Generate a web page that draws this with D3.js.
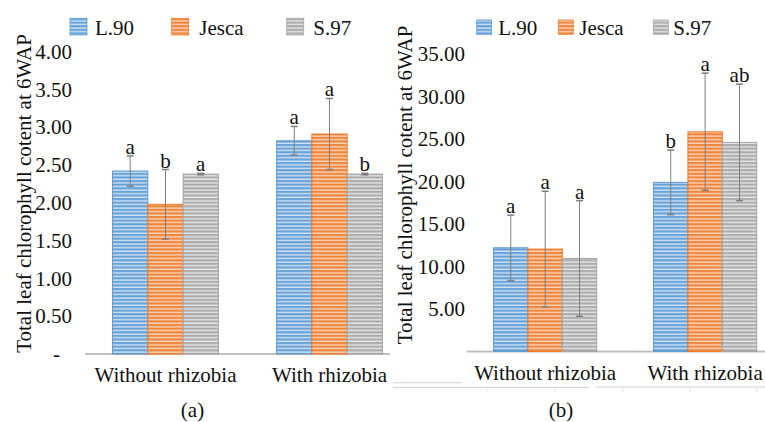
<!DOCTYPE html>
<html><head><meta charset="utf-8">
<script src="https://cdn.jsdelivr.net/npm/d3@7"></script>
<style>
html,body{margin:0;padding:0;background:#fff;}
svg{display:block;}
svg text{font-family:'Liberation Serif','Times New Roman',Times,'DejaVu Serif',serif !important;}
</style></head>
<body><svg id="c" width="765" height="422"></svg>
<script>
// ---- data ----
const categories = ["Without rhizobia", "With rhizobia"];
const seriesNames = ["L.90", "Jesca", "S.97"];

// panel (a)
const aL90 = [2.42, 2.82];
const aJesca = [1.98, 2.91];
const aS97 = [2.38, 2.38];
const aL90Err = [0.20, 0.19];
const aJescaErr = [0.46, 0.47];
const aS97Err = [0.01, 0.01];
const aL90Sig = ["a", "a"];
const aJescaSig = ["b", "a"];
const aS97Sig = ["a", "b"];
const aTicks = [0, 0.5, 1, 1.5, 2, 2.5, 3, 3.5, 4];

// panel (b)
const bL90 = [12.2, 19.9];
const bJesca = [12.05, 25.85];
const bS97 = [10.95, 24.6];
const bL90Err = [3.85, 3.8];
const bJescaErr = [6.8, 6.9];
const bS97Err = [6.8, 6.85];
const bL90Sig = ["a", "b"];
const bJescaSig = ["a", "a"];
const bS97Sig = ["a", "ab"];
const bTicks = [5, 10, 15, 20, 25, 30, 35];

const yTitle = "Total leaf chlorophyll cotent at 6WAP";

// ---- styles ----
const FONT = "'Liberation Serif','Times New Roman',Times,'DejaVu Serif',serif";
const baseColors = ["#5b9bd5", "#ed7d31", "#a5a5a5"];
const lightColors = ["#d2e3f3", "#fad5bb", "#e6e6e6"];
const svg = d3.select("#c").attr("font-family", FONT);
const defs = svg.append("defs");
baseColors.forEach((c, i) => {
  const p = defs.append("pattern").attr("id", "pat" + i)
    .attr("patternUnits", "userSpaceOnUse").attr("width", 6).attr("height", 3.6);
  p.append("rect").attr("width", 6).attr("height", 3.6).attr("fill", lightColors[i]);
  p.append("rect").attr("width", 6).attr("height", 2.2).attr("fill", c).attr("opacity", 0.9);
});
defs.append("clipPath").attr("id", "clipA").append("rect")
  .attr("x", 0).attr("y", 0).attr("width", 390).attr("height", 422);

function txt(sel) {
  return sel.attr("font-family", FONT).attr("font-size", 21).attr("fill", "#111");
}

function panel(cfg) {
  const g = svg.append("g");
  if (cfg.clip) g.attr("clip-path", "url(#" + cfg.clip + ")");
  const x0 = d3.scaleBand().domain(categories).range([cfg.x0, cfg.x1])
    .paddingInner(0.355).paddingOuter(0.168);
  const x1 = d3.scaleBand().domain(seriesNames).range([0, x0.bandwidth()]);
  const y = d3.scaleLinear().domain(cfg.domain).range([cfg.yBase, cfg.yTop]);

  // baseline
  g.append("line").attr("x1", cfg.x0).attr("x2", cfg.lineEnd)
    .attr("y1", cfg.yBase).attr("y2", cfg.yBase)
    .attr("stroke", "#bfbfbf").attr("stroke-width", 2);

  // y tick labels
  const yAxis = d3.axisLeft(y).tickValues(cfg.ticks).tickSize(0)
    .tickFormat(d => d === 0 ? "-" : d3.format(".2f")(d));
  const ya = g.append("g").attr("transform", `translate(${cfg.labelX},0)`).call(yAxis)
    .attr("font-family", FONT).attr("font-size", 21);
  ya.select(".domain").remove();
  txt(ya.selectAll("text")).attr("x", d => d === 0 ? -12 : 0);

  // y title
  txt(g.append("text")).attr("transform", `translate(${cfg.titleX},${cfg.titleY}) rotate(-90)`)
    .attr("text-anchor", "middle").text(yTitle);

  // bars
  const rows = [];
  categories.forEach((c, ci) => {
    seriesNames.forEach((s, si) => {
      rows.push({c, s, si, v: cfg.vals[si][ci], e: cfg.errs[si][ci], t: cfg.sig[si][ci]});
    });
  });
  const bg = g.append("g");
  bg.selectAll("rect").data(rows).join("rect")
    .attr("x", d => x0(d.c) + x1(d.s))
    .attr("y", d => y(d.v))
    .attr("width", x1.bandwidth())
    .attr("height", d => y(0) - y(d.v))
    .attr("fill", d => `url(#pat${d.si})`)
    .attr("stroke", d => baseColors[d.si]).attr("stroke-width", 1);

  // error bars
  const cx = d => x0(d.c) + x1(d.s) + x1.bandwidth() / 2;
  const eg = g.append("g").attr("stroke", "#7f7f7f");
  eg.selectAll("line.v").data(rows).join("line").attr("class", "v")
    .attr("x1", cx).attr("x2", cx)
    .attr("y1", d => y(d.v + d.e)).attr("y2", d => y(d.v - d.e)).attr("stroke-width", 1);
  [1, -1].forEach(sgn => {
    eg.selectAll("line.c" + (sgn > 0 ? "t" : "b")).data(rows).join("line")
      .attr("class", "c" + (sgn > 0 ? "t" : "b"))
      .attr("x1", d => cx(d) - 3.5).attr("x2", d => cx(d) + 3.5)
      .attr("y1", d => y(d.v + sgn * d.e)).attr("y2", d => y(d.v + sgn * d.e))
      .attr("stroke-width", 1.5);
  });

  // significance letters
  txt(g.append("g").selectAll("text").data(rows).join("text"))
    .attr("x", cx).attr("y", d => y(d.v + d.e) - 2)
    .attr("text-anchor", "middle")
    .text(d => d.t);

  // x labels
  txt(g.append("g").selectAll("text").data(categories).join("text"))
    .attr("x", d => x0(d) + x0.bandwidth() / 2).attr("y", cfg.xLabelY)
    .attr("text-anchor", "middle")
    .text(d => d);

  // legend
  const lg = g.append("g");
  seriesNames.forEach((s, i) => {
    lg.append("rect").attr("x", cfg.legSw[i]).attr("y", cfg.legY)
      .attr("width", cfg.swW).attr("height", cfg.swH)
      .attr("fill", `url(#pat${i})`).attr("stroke", baseColors[i]).attr("stroke-width", 0.8);
    txt(lg.append("text")).attr("x", cfg.legTx[i]).attr("y", 34.5).text(s);
  });

  // caption
  txt(svg.append("text")).attr("x", cfg.capX).attr("y", 417).attr("text-anchor", "middle")
    .text(cfg.cap);
}

panel({
  clip: "clipA", x0: 85, x1: 410, lineEnd: 390, yBase: 354, yTop: 51.6, domain: [0, 4],
  ticks: aTicks, labelX: 72, titleX: 31, titleY: 193.5, xLabelY: 381.7,
  vals: [aL90, aJesca, aS97], errs: [aL90Err, aJescaErr, aS97Err], sig: [aL90Sig, aJescaSig, aS97Sig],
  legSw: [70, 171.7, 286.7], legTx: [95, 199.3, 313.3], legY: 18.3, swW: 17, swH: 16.7,
  capX: 192.5, cap: "(a)"
});
panel({
  x0: 466.7, x1: 783.6, lineEnd: 765, yBase: 351.5, yTop: 54, domain: [0, 35],
  ticks: bTicks, labelX: 465, titleX: 411.5, titleY: 185, xLabelY: 380,
  vals: [bL90, bJesca, bS97], errs: [bL90Err, bJescaErr, bS97Err], sig: [bL90Sig, bJescaSig, bS97Sig],
  legSw: [476.7, 558.3, 653.3], legTx: [498.3, 579.3, 673.3], legY: 20, swW: 15, swH: 14.3,
  capX: 561, cap: "(b)"
});

// faint table remnants under panel (b)
const rem = svg.append("g").attr("stroke", "#cfcfcf").attr("stroke-width", 1);
rem.append("line").attr("x1", 393).attr("x2", 461.7).attr("y1", 382.7).attr("y2", 382.7);
rem.append("line").attr("x1", 393).attr("x2", 589).attr("y1", 387.3).attr("y2", 387.3);
rem.append("line").attr("x1", 595.7).attr("x2", 765).attr("y1", 387).attr("y2", 387);
[486.7, 555, 623, 690, 756.7].forEach(xx =>
  rem.append("line").attr("x1", xx).attr("x2", xx).attr("y1", 387).attr("y2", 392).attr("stroke", "#e2e2e2"));
</script>
</body></html>
